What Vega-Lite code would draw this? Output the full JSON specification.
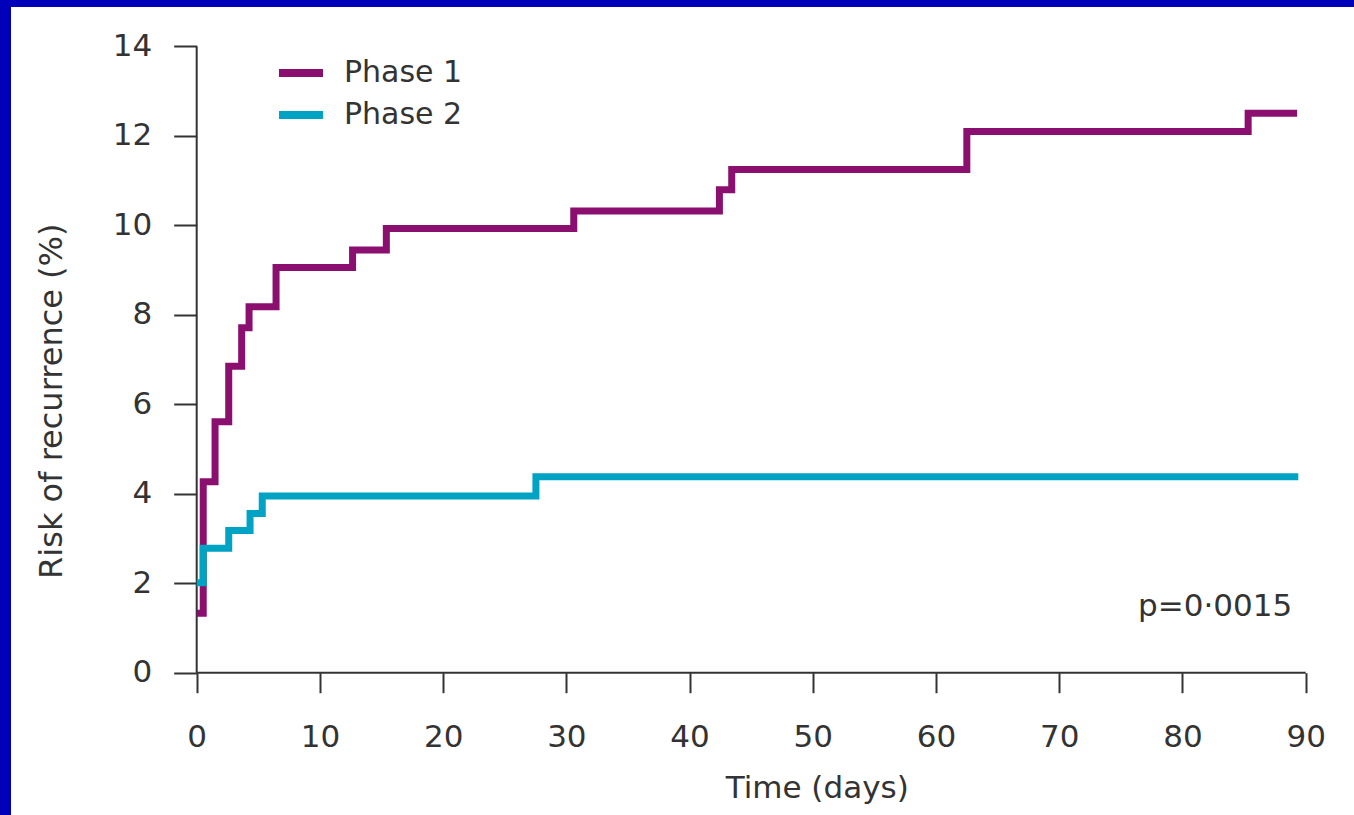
{
  "$schema": "https://vega.github.io/schema/vega-lite/v6.json",
  "width": 1343,
  "height": 808,
  "autosize": "none",
  "padding": {"left": 11, "top": 7, "right": 0, "bottom": 0},
  "background": "#0000B8",
  "config": {
    "view": {"fill": "#ffffff", "stroke": null},
    "font": "DejaVu Sans",
    "axis": {
      "grid": false,
      "domain": false,
      "tickColor": "#333333",
      "tickWidth": 2,
      "labelColor": "#333333",
      "labelFont": "DejaVu Sans",
      "labelFontSize": 31,
      "labelFlush": false,
      "labelOverlap": false,
      "titleColor": "#333333",
      "titleFont": "DejaVu Sans",
      "titleFontWeight": "normal"
    }
  },
  "layer": [
    {
      "data": {"values": [{}]},
      "mark": {"type": "rule", "color": "#333333", "strokeWidth": 2},
      "encoding": {
        "x": {"datum": 0, "type": "quantitative"},
        "y": {"datum": 0, "type": "quantitative"},
        "y2": {"datum": 14}
      }
    },
    {
      "data": {"values": [{}]},
      "mark": {"type": "rule", "color": "#333333", "strokeWidth": 2},
      "encoding": {
        "x": {"datum": 0, "type": "quantitative"},
        "x2": {"datum": 90},
        "y": {"datum": 0, "type": "quantitative"}
      }
    },
    {
      "data": {
        "values": [
          {"phase": "Phase 1", "days": 0, "risk": 1.33},
          {"phase": "Phase 1", "days": 0.53, "risk": 4.27},
          {"phase": "Phase 1", "days": 1.49, "risk": 5.61},
          {"phase": "Phase 1", "days": 2.6, "risk": 6.85},
          {"phase": "Phase 1", "days": 3.65, "risk": 7.71},
          {"phase": "Phase 1", "days": 4.25, "risk": 8.18},
          {"phase": "Phase 1", "days": 6.44, "risk": 9.06},
          {"phase": "Phase 1", "days": 12.65, "risk": 9.45},
          {"phase": "Phase 1", "days": 15.39, "risk": 9.93},
          {"phase": "Phase 1", "days": 30.6, "risk": 10.32},
          {"phase": "Phase 1", "days": 42.42, "risk": 10.8},
          {"phase": "Phase 1", "days": 43.42, "risk": 11.25},
          {"phase": "Phase 1", "days": 62.5, "risk": 12.1},
          {"phase": "Phase 1", "days": 85.33, "risk": 12.51},
          {"phase": "Phase 1", "days": 89.3, "risk": 12.51},
          {"phase": "Phase 2", "days": 0, "risk": 2.01},
          {"phase": "Phase 2", "days": 0.53, "risk": 2.78},
          {"phase": "Phase 2", "days": 2.6, "risk": 3.18},
          {"phase": "Phase 2", "days": 4.33, "risk": 3.56},
          {"phase": "Phase 2", "days": 5.32, "risk": 3.95},
          {"phase": "Phase 2", "days": 27.53, "risk": 4.38},
          {"phase": "Phase 2", "days": 89.4, "risk": 4.38}
        ]
      },
      "mark": {"type": "line", "interpolate": "step-after", "strokeWidth": 7, "strokeJoin": "miter", "strokeCap": "butt"},
      "encoding": {
        "x": {
          "field": "days",
          "type": "quantitative",
          "scale": {"domain": [-15.07, 93.92], "zero": false, "nice": false},
          "axis": {
            "values": [0, 10, 20, 30, 40, 50, 60, 70, 80, 90],
            "offset": -142.3,
            "tickSize": 20,
            "labelPadding": 30,
            "labelBaseline": "top",
            "title": "Time (days)",
            "titleFontSize": 31,
            "titleX": 805.7,
            "titleY": 124.6,
            "titleAlign": "center",
            "titleBaseline": "alphabetic"
          }
        },
        "y": {
          "field": "risk",
          "type": "quantitative",
          "scale": {"domain": [-3.181, 14.883], "zero": false, "nice": false},
          "axis": {
            "values": [0, 2, 4, 6, 8, 10, 12, 14],
            "offset": -185.7,
            "tickSize": 23,
            "labelPadding": 22,
            "title": "Risk of recurrence (%)",
            "titleFontSize": 32,
            "titleAngle": -90,
            "titleX": -135.7,
            "titleY": 393.7,
            "titleAlign": "center",
            "titleBaseline": "alphabetic"
          }
        },
        "color": {
          "field": "phase",
          "type": "nominal",
          "scale": {"domain": ["Phase 1", "Phase 2"], "range": ["#8A0F6F", "#00A3C4"]},
          "legend": {
            "title": null,
            "orient": "none",
            "legendX": 264,
            "legendY": 40,
            "padding": 0,
            "symbolType": "stroke",
            "symbolSize": 1936,
            "symbolStrokeWidth": 8,
            "labelFont": "DejaVu Sans",
            "labelFontSize": 30,
            "labelColor": "#333333",
            "labelOffset": 17,
            "rowPadding": 0
          }
        }
      }
    },
    {
      "data": {"values": [{"label": "p=0·0015"}]},
      "mark": {"type": "text", "align": "right", "baseline": "alphabetic", "fontSize": 31, "font": "DejaVu Sans", "color": "#333333"},
      "encoding": {
        "x": {"datum": 88.9, "type": "quantitative"},
        "y": {"datum": 1.27, "type": "quantitative"},
        "text": {"field": "label"}
      }
    }
  ]
}
